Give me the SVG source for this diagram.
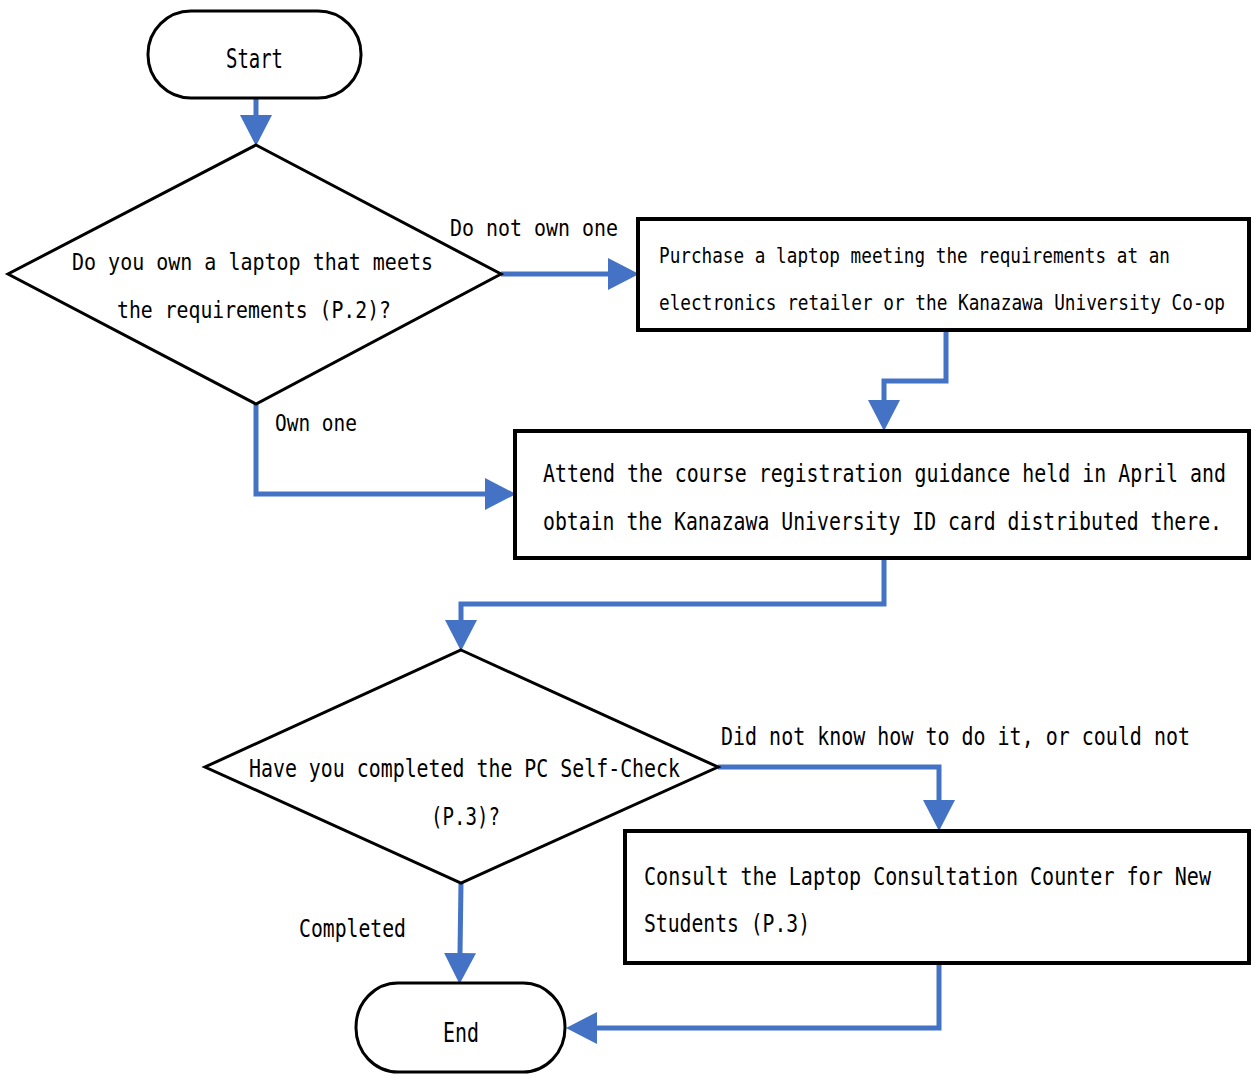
<svg xmlns="http://www.w3.org/2000/svg" width="1251" height="1079" viewBox="0 0 1251 1079">
<style>
.t{font-family:"DejaVu Sans Mono","Liberation Mono","Noto Sans CJK JP",monospace;fill:#000}
.sh{fill:#fff;stroke:#000;stroke-width:3}
.bx{fill:#fff;stroke:#000;stroke-width:4}
.c{fill:none;stroke:#4472C4;stroke-width:5;marker-end:url(#ah)}
</style>
<defs>
<marker id="ah" markerUnits="userSpaceOnUse" markerWidth="31" markerHeight="32" refX="0" refY="16" orient="auto" viewBox="0 0 31 32">
<path d="M0,0 L31,16 L0,32 z" fill="#4472C4"/>
</marker>
</defs>
<rect width="1251" height="1079" fill="#fff"/>
<g id="connectors">
<path class="c" d="M256,98 V115"/>
<path class="c" d="M501,274 H608"/>
<path class="c" d="M946,330 V381 H884 V400"/>
<path class="c" d="M256,404 V494 H485"/>
<path class="c" d="M884,558 V604 H461 V620"/>
<path class="c" d="M718,767 H939 V800"/>
<path class="c" d="M461,883 L460,953"/>
<path class="c" d="M939,963 V1028 H597"/>
</g>
<g id="start">
<rect class="sh" x="148" y="11" width="213" height="87" rx="43" ry="43"/>
<text class="t" x="226" y="68" font-size="26" textLength="57" lengthAdjust="spacingAndGlyphs">Start</text>
</g>
<g id="decision1">
<polygon class="sh" points="256,145 501,274 256,404 8,274"/>
<text class="t" x="72" y="270" font-size="23" textLength="361" lengthAdjust="spacingAndGlyphs">Do you own a laptop that meets</text>
<text class="t" x="117" y="318" font-size="23" textLength="274" lengthAdjust="spacingAndGlyphs">the requirements (P.2)?</text>
</g>
<g id="purchase">
<rect class="bx" x="638" y="219" width="611" height="111"/>
<text class="t" x="659" y="263" font-size="21" textLength="511" lengthAdjust="spacingAndGlyphs">Purchase a laptop meeting the requirements at an</text>
<text class="t" x="659" y="310" font-size="21" textLength="566" lengthAdjust="spacingAndGlyphs">electronics retailer or the Kanazawa University Co-op</text>
</g>
<g id="attend">
<rect class="bx" x="515" y="431" width="734" height="127"/>
<text class="t" x="543" y="482" font-size="25" textLength="683" lengthAdjust="spacingAndGlyphs">Attend the course registration guidance held in April and</text>
<text class="t" x="543" y="530" font-size="25" textLength="679" lengthAdjust="spacingAndGlyphs">obtain the Kanazawa University ID card distributed there.</text>
</g>
<g id="decision2">
<polygon class="sh" points="461,650 718,767 461,883 205,767"/>
<text class="t" x="249" y="777" font-size="25" textLength="431" lengthAdjust="spacingAndGlyphs">Have you completed the PC Self-Check</text>
<text class="t" x="431" y="825" font-size="25" textLength="69" lengthAdjust="spacingAndGlyphs">(P.3)?</text>
</g>
<g id="consult">
<rect class="bx" x="625" y="831" width="624" height="132"/>
<text class="t" x="644" y="885" font-size="25" textLength="567" lengthAdjust="spacingAndGlyphs">Consult the Laptop Consultation Counter for New</text>
<text class="t" x="644" y="932" font-size="25" textLength="166" lengthAdjust="spacingAndGlyphs">Students (P.3)</text>
</g>
<g id="end">
<rect class="sh" x="356" y="983" width="209" height="89" rx="42" ry="44"/>
<text class="t" x="443" y="1042" font-size="26" textLength="36" lengthAdjust="spacingAndGlyphs">End</text>
</g>
<g id="labels">
<text class="t" x="450" y="236" font-size="23" textLength="168" lengthAdjust="spacingAndGlyphs">Do not own one</text>
<text class="t" x="275" y="431" font-size="23" textLength="82" lengthAdjust="spacingAndGlyphs">Own one</text>
<text class="t" x="721" y="745" font-size="24" textLength="469" lengthAdjust="spacingAndGlyphs">Did not know how to do it, or could not</text>
<text class="t" x="299" y="937" font-size="24" textLength="107" lengthAdjust="spacingAndGlyphs">Completed</text>
</g>
</svg>
